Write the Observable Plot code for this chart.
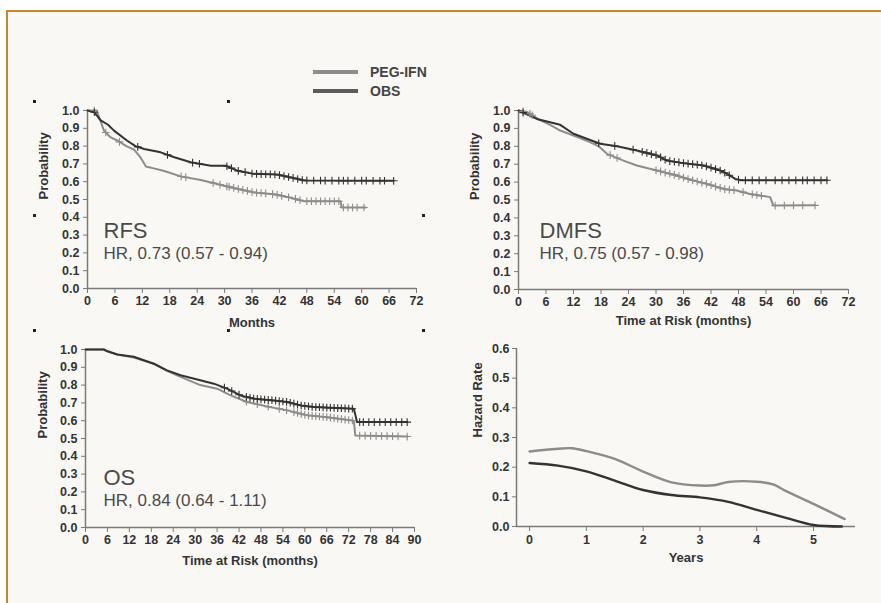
<!DOCTYPE html>
<html><head><meta charset="utf-8">
<script src="https://cdn.jsdelivr.net/npm/d3@7"></script>
<script src="https://cdn.jsdelivr.net/npm/@observablehq/plot@0.6"></script>
<style>
html,body{margin:0;padding:0;background:#fff;width:881px;height:603px;overflow:hidden;position:relative}
#frame{position:absolute;left:6px;top:10px;width:900px;height:700px;border-top:2px solid #c8862a;border-left:2px solid #c8862a;background:#faf8f4}
.panel{position:absolute}
.panel svg{background:transparent}
.lg-line{position:absolute;left:313px;width:45px;height:4px}
.lg-text{position:absolute;left:370px;font:bold 14px "Liberation Sans",Arial,sans-serif;color:#444;line-height:16px}
.reg{position:absolute;width:3px;height:3px;background:#222}
</style>
</head><body>
<div id="frame"></div>
<div class="lg-line" style="top:70px;background:#8c8c8c"></div>
<div class="lg-text" style="top:64px">PEG-IFN</div>
<div class="lg-line" style="top:89px;background:#5c5c5c"></div>
<div class="lg-text" style="top:83px">OBS</div>
<div class="reg" style="left:33px;top:100px"></div>
<div class="reg" style="left:227px;top:100px"></div>
<div class="reg" style="left:33px;top:214px"></div>
<div class="reg" style="left:422px;top:214px"></div>
<div class="reg" style="left:33px;top:329px"></div>
<div class="reg" style="left:227px;top:329px"></div>
<div class="reg" style="left:422px;top:329px"></div>
<div id="rfs" class="panel" style="left:20px;top:90px"></div>
<div id="dmfs" class="panel" style="left:450px;top:90px"></div>
<div id="os" class="panel" style="left:20px;top:320px"></div>
<div id="haz" class="panel" style="left:450px;top:320px"></div>
<script>
// ---- Data ----
const seriesNames = ["PEG-IFN", "OBS"];
const seriesColors = ["#8c8c8c", "#333333"];

// RFS: [months, survival probability]
const rfsPeg = [[0,1],[2,1],[3,0.93],[3.6,0.887],[5,0.85],[6.6,0.83],[8.5,0.80],[10.2,0.78],[11.5,0.74],[12.8,0.685],[14.5,0.675],[16.8,0.66],[20.4,0.63],[24.8,0.61],[28.4,0.587],[32,0.565],[36.4,0.54],[40.8,0.53],[44.5,0.51],[47.4,0.49],[55.4,0.49],[55.6,0.455],[60.9,0.455]];
const rfsObs = [[0,1],[1.5,0.99],[2.9,0.944],[4.5,0.92],[5.8,0.887],[8.7,0.83],[10.5,0.80],[12.4,0.784],[16,0.765],[19,0.737],[22.6,0.709],[27,0.69],[30.2,0.69],[32.8,0.662],[36.4,0.644],[41.5,0.64],[45.2,0.62],[47.4,0.607],[67,0.605]];
const rfsPegCens = [1.5,4,7,20.5,21.5,27.5,29,30.5,31,32,33,34,35,36,37,38,39,40.5,41.5,42.5,44,45.5,46.5,48,49,50,51,52,53,54,55,56,57,58,59,60.5];
const rfsObsCens = [1.5,11,17.5,23,24.5,30.5,31.5,33,34.5,36,37,38,39,40,41,42,43,44,45,46,47,48,49.5,51,52,53.5,55,56,57,58.5,60,61,62.5,64,65,67];

// DMFS
const dmfsPeg = [[0,1],[2,0.99],[4.4,0.95],[6.9,0.92],[9.1,0.888],[12,0.86],[15.6,0.823],[17.5,0.80],[19.3,0.758],[22.9,0.72],[25.8,0.693],[30.2,0.665],[34.5,0.637],[37.5,0.613],[41.1,0.59],[44.7,0.562],[47.6,0.553],[50.5,0.534],[54.9,0.516],[55.6,0.469],[64.7,0.47]];
const dmfsObs = [[0,1],[4,0.953],[9.1,0.92],[12,0.87],[17.8,0.814],[21.5,0.80],[25.8,0.777],[30.2,0.749],[32.4,0.72],[36,0.706],[40.4,0.693],[44,0.665],[45.5,0.646],[47.3,0.618],[48.5,0.61],[67.3,0.61]];
const dmfsPegCens = [1,2.5,3,20,21.5,30,31,32,33,34,35,36,37,38,39,40,41,42,43,44,45,46,47,49,51,52,53,56,58,60,62,64.7];
const dmfsObsCens = [1,17.5,21,25,27,28,29,30,31,32,33,34,35,36,37,38,39,40,41,42,43,44,45,46,48,49.5,51,52.5,54,56,57.5,59,60.5,62,63,64.5,66,67.3];

// OS
const osPeg = [[0,1],[5,1],[6,0.99],[8.7,0.972],[13.2,0.955],[18.7,0.92],[22.3,0.88],[26,0.846],[31.4,0.80],[36,0.78],[39.7,0.742],[44.2,0.705],[49.7,0.68],[55.2,0.658],[60.6,0.63],[66,0.62],[73.4,0.60],[73.8,0.517],[88,0.511]];
const osObs = [[0,1],[5,1],[6,0.99],[8.7,0.972],[13.2,0.959],[18.7,0.92],[22.3,0.883],[26,0.855],[31.4,0.827],[35.1,0.808],[38.7,0.78],[42.4,0.742],[46,0.724],[51.5,0.714],[55.2,0.705],[58.8,0.686],[62.4,0.677],[73.4,0.667],[74.3,0.592],[88,0.592]];
const osPegCens = [44,47,50,53,55,57,58,59,60,61,62,63,64,65,66,67,68,69,70,71,72,73,75,76.5,78,79.5,81,82.5,84,85.5,88];
const osObsCens = [38,40,42,44,45,46,47,48,49,50,51,52,53,54,55,56,57,58,59,60,61,62,63,64,65,66,67,68,69,70,71,72,73,75,76,77.5,79,80.5,82,83.5,85,86.5,88];

// Hazard rate by year
const hazPegYears = [0,0.25,0.5,0.75,1,1.5,2,2.5,3,3.25,3.5,4,4.3,4.5,5,5.55];
const hazPegRate  = [0.253,0.258,0.262,0.264,0.254,0.228,0.185,0.149,0.138,0.139,0.15,0.151,0.141,0.121,0.076,0.025];
const hazObsYears = [0,0.5,1,1.5,2,2.5,3,3.5,4,4.5,5,5.5];
const hazObsRate  = [0.214,0.205,0.186,0.155,0.123,0.106,0.098,0.083,0.056,0.03,0.005,0.0];

const probTicks = d3.range(0, 11).map(i => i / 10);
const hazTicks = d3.range(0, 7).map(i => i / 10);
const yearTicks = [0,1,2,3,4,5];

// ---- Rendering ----
const FONT = '"Liberation Sans", Arial, sans-serif';
const axisColor = "#7a7a7a";

function toRows(arr, name) { return arr.map(([t, s]) => ({t, s, name})); }
function censRows(curve, times, name) {
  const f = d3.scaleLinear().domain(curve.map(d => d[0])).range(curve.map(d => d[1])).clamp(true);
  return times.map(t => ({t, s: f(t), name}));
}

function kmPanel(el, cfg) {
  const rows = [...toRows(cfg.peg, "PEG-IFN"), ...toRows(cfg.obs, "OBS")];
  const cens = [...censRows(cfg.peg, cfg.pegCens, "PEG-IFN"), ...censRows(cfg.obs, cfg.obsCens, "OBS")];
  const color = {domain: seriesNames, range: seriesColors};
  const chart = Plot.plot({
    width: cfg.width, height: cfg.height,
    marginLeft: cfg.ml, marginRight: cfg.mr, marginTop: cfg.mt, marginBottom: cfg.mb,
    style: {fontFamily: FONT, fontSize: "12.5px", fontWeight: "bold", color: "#333", background: "transparent"},
    x: {domain: [0, cfg.xMax]},
    y: {domain: [0, 1]},
    color,
    marks: [
      Plot.axisX({ticks: d3.range(0, cfg.xMax + 1, 6), tickFormat: d3.format("d"), tickSize: 5, tickPadding: 3, label: null, stroke: axisColor}),
      Plot.axisY({ticks: probTicks, tickFormat: d3.format(".1f"), tickSize: 4, tickPadding: 4, label: null, stroke: axisColor}),
      Plot.ruleY([0], {stroke: axisColor, strokeWidth: 1.5}),
      Plot.ruleX([0], {stroke: axisColor, strokeWidth: 1.5}),
      Plot.line(rows, {x: "t", y: "s", z: "name", stroke: "name", strokeWidth: 2}),
      Plot.dot(cens, {x: "t", y: "s", stroke: "name", symbol: "plus", r: 2.6, strokeWidth: 1.1}),
      Plot.text([cfg.title], {frameAnchor: "bottom-left", dx: cfg.tdx, dy: cfg.titleDy, lineAnchor: "bottom", textAnchor: "start", fontSize: 22, fontWeight: "normal", fill: "#4a4a4a"}),
      Plot.text([cfg.hr], {frameAnchor: "bottom-left", dx: cfg.tdx, dy: cfg.hrDy, lineAnchor: "bottom", textAnchor: "start", fontSize: 17, fontWeight: "normal", fill: "#4a4a4a"}),
      Plot.text([cfg.xLabel], {frameAnchor: "bottom", dy: cfg.xLabelDy, lineAnchor: "middle", fontSize: 13, fill: "#333"}),
      Plot.text(["Probability"], {frameAnchor: "left", dx: cfg.yLabelDx, rotate: -90, lineAnchor: "middle", fontSize: 13, fill: "#333"})
    ]
  });
  document.getElementById(el).appendChild(chart);
}

kmPanel("rfs", {peg: rfsPeg, obs: rfsObs, pegCens: rfsPegCens, obsCens: rfsObsCens, xMax: 72,
  width: 420, height: 250, ml: 67, mr: 24, mt: 20, mb: 52,
  title: "RFS", hr: "HR, 0.73 (0.57 - 0.94)", tdx: 16, titleDy: -51, hrDy: -30,
  xLabel: "Months", xLabelDy: 34, yLabelDx: -44});
kmPanel("dmfs", {peg: dmfsPeg, obs: dmfsObs, pegCens: dmfsPegCens, obsCens: dmfsObsCens, xMax: 72,
  width: 430, height: 250, ml: 68, mr: 32, mt: 20, mb: 51,
  title: "DMFS", hr: "HR, 0.75 (0.57 - 0.98)", tdx: 21, titleDy: -52, hrDy: -31,
  xLabel: "Time at Risk (months)", xLabelDy: 31, yLabelDx: -44});
kmPanel("os", {peg: osPeg, obs: osObs, pegCens: osPegCens, obsCens: osObsCens, xMax: 90,
  width: 420, height: 260, ml: 65, mr: 26, mt: 29, mb: 53,
  title: "OS", hr: "HR, 0.84 (0.64 - 1.11)", tdx: 18, titleDy: -43, hrDy: -22,
  xLabel: "Time at Risk (months)", xLabelDy: 33, yLabelDx: -43});

// Hazard panel
(function () {
  const rows = [
    ...hazPegYears.map((t, i) => ({t, h: hazPegRate[i], name: "PEG-IFN"})),
    ...hazObsYears.map((t, i) => ({t, h: hazObsRate[i], name: "OBS"}))
  ];
  const xMin = -0.23;
  const chart = Plot.plot({
    width: 430, height: 260, marginLeft: 66, marginRight: 25, marginTop: 28, marginBottom: 54,
    style: {fontFamily: FONT, fontSize: "12.5px", fontWeight: "bold", color: "#333", background: "transparent"},
    x: {domain: [xMin, 5.74]},
    y: {domain: [0, 0.6]},
    color: {domain: seriesNames, range: seriesColors},
    marks: [
      Plot.axisX({ticks: yearTicks, tickFormat: d3.format("d"), tickSize: 5, tickPadding: 4, label: null, stroke: axisColor}),
      Plot.axisY({ticks: hazTicks, tickFormat: d3.format(".1f"), tickSize: 4, tickPadding: 3, label: null, stroke: axisColor}),
      Plot.ruleY([0], {stroke: axisColor, strokeWidth: 1.5}),
      Plot.ruleX([xMin], {stroke: axisColor, strokeWidth: 1.5}),
      Plot.line(rows, {x: "t", y: "h", z: "name", stroke: "name", strokeWidth: 2.4, curve: "catmull-rom"}),
      Plot.text(["Years"], {frameAnchor: "bottom", dy: 31, lineAnchor: "middle", fontSize: 13, fill: "#333"}),
      Plot.text(["Hazard Rate"], {frameAnchor: "left", dx: -39, rotate: -90, lineAnchor: "middle", fontSize: 13, fill: "#333"})
    ]
  });
  document.getElementById("haz").appendChild(chart);
})();
</script>
</body></html>
